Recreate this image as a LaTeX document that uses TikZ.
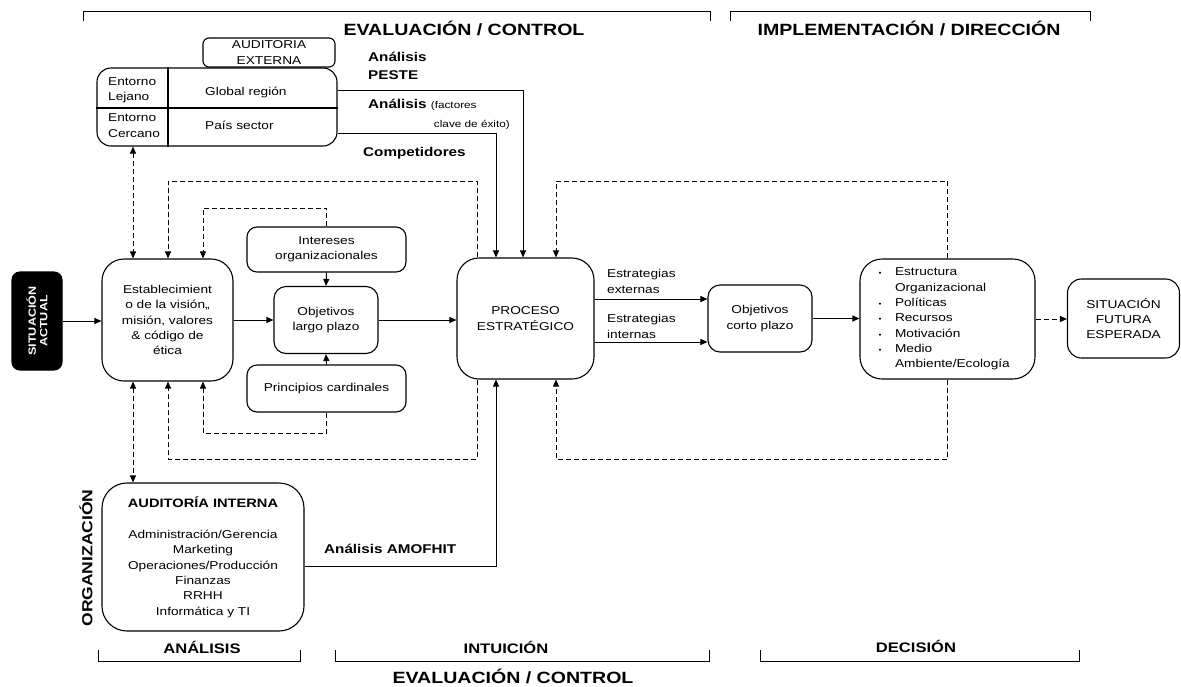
\documentclass[tikz,border=0pt]{standalone}
\usepackage{fontspec}
\setmainfont{Liberation Sans}[FakeStretch=1.2]
\usetikzlibrary{arrows.meta}

% type sizes
\newcommand\fsbody{\fontsize{11.4}{15.3}\selectfont}
\newcommand\fssmall{\fontsize{9.8}{12}\selectfont}
\newcommand\fslab{\bfseries\fontsize{12.7}{18}\selectfont}
\newcommand\fshead{\bfseries\fontsize{16.3}{20}\selectfont}
\newcommand\fsfoot{\bfseries\fontsize{13.8}{16}\selectfont}
\newcommand\fsact{\bfseries\fontsize{10.5}{11.5}\selectfont}
\newcommand\fsorg{\bfseries\fontsize{14.6}{16}\selectfont}
\newcommand\fsaud{\bfseries\fontsize{12.2}{15}\selectfont}
% bullet item helpers
\newcommand\itm{\makebox[17.5pt][l]{\hspace*{1pt}{\fontsize{7}{7}\selectfont\textbullet}}}
\newcommand\ind{\hspace*{17.5pt}}

\begin{document}
\begin{tikzpicture}[x=1pt,y=-1pt,
  >={Triangle[length=7pt,width=6pt]},
  box/.style={draw, line width=1.1pt, rounded corners=#1, inner sep=0pt,
              align=center, font=\fsbody},
  box/.default=12pt,
  txt/.style={inner sep=0pt, font=\fsbody},
  lbl/.style={inner sep=0pt, font=\fslab},
  conn/.style={line width=1pt, ->},
  dconn/.style={conn, dash pattern=on 5pt off 3pt},
  brk/.style={line width=1pt}]
\useasboundingbox (0,0) rectangle (1181,686);

% reference columns and rows for the routed connectors
\coordinate (colA) at (133,0);
\coordinate (colB) at (168,0);
\coordinate (colC) at (203,0);
\coordinate (colE) at (477,0);
\coordinate (colF) at (496,0);
\coordinate (colG) at (523,0);
\coordinate (colH) at (556,0);
\coordinate (rowT) at (0,181);
\coordinate (rowT2) at (0,208);
\coordinate (rowB2) at (0,433);
\coordinate (rowB) at (0,459);

% section brackets, top
\draw[brk] (83,21) -- (83,11) -- (710,11) -- (710,21);
\draw[brk] (730,21) -- (730,11) -- (1090,11) -- (1090,21);
\node[inner sep=0pt, font=\fshead] (hev) at (464,28) {EVALUACIÓN / CONTROL};
\node[inner sep=0pt, font=\fshead] (him) at (909,28) {IMPLEMENTACIÓN / DIRECCIÓN};

% section brackets, bottom
\draw[brk] (98,650) -- (98,661) -- (300,661) -- (300,650);
\draw[brk] (335,650) -- (335,661) -- (709,661) -- (709,650);
\draw[brk] (760,650) -- (760,661) -- (1079,661) -- (1079,650);
\node[inner sep=0pt, font=\fsfoot] (fan) at (202,647) {ANÁLISIS};
\node[inner sep=0pt, font=\fsfoot] (fin) at (506,647) {INTUICIÓN};
\node[inner sep=0pt, font=\fsfoot] (fde) at (916,646) {DECISIÓN};
\node[inner sep=0pt, font=\fshead] (fev) at (513,676) {EVALUACIÓN / CONTROL};

% external audit
\node[box=6pt, minimum width=132pt, minimum height=29pt] (ae) at (269,52.5) {AUDITORIA\\EXTERNA};
\node[box=14pt, minimum width=240pt, minimum height=78pt] (ent) at (217,107) {};
\coordinate (entdiv) at (168,108);
\draw[line width=1.1pt] (ent.north -| entdiv) -- (ent.south -| entdiv);
\draw[line width=1.1pt] (ent.west |- entdiv) -- (ent.east |- entdiv);
\node[txt, anchor=west, align=left] (lej) at (108,90.5) {Entorno\\Lejano};
\node[txt, anchor=west, align=left] (cer) at (108,125.5) {Entorno\\Cercano};
\node[txt, anchor=west] (glob) at (205,92) {Global región};
\node[txt, anchor=west] (pais) at (205,125) {País sector};

% analysis labels
\node[lbl, anchor=west, align=left] (peste) at (368,66) {Análisis\\PESTE};
\node[lbl, anchor=west] (fce1) at (368,105) {Análisis {\fssmall\mdseries (factores}};
\node[inner sep=0pt, anchor=east, font=\fssmall] (fce2) at (510,125) {clave de éxito)};
\node[lbl, anchor=west] (comp) at (363,153) {Competidores};
\node[lbl, anchor=west] (amof) at (324,549) {Análisis AMOFHIT};

% main flow
\node[box=8pt, fill=black, minimum width=50pt, minimum height=98pt] (sa) at (37,321) {};
\node[inner sep=0pt, rotate=90, text=white, align=center, font=\fsact] (sat) at (sa) {SITUACIÓN\\ACTUAL};
\node[box=22pt, minimum width=131pt, minimum height=122pt] (est) at (167.5,320)
  {Establecimient\\o de la visión,,\\misión, valores\\\& código de\\ética};
\node[box=10pt, minimum width=159pt, minimum height=45pt] (ilp) at (326.5,249.5) {Intereses\\organizacionales};
\node[box=12pt, minimum width=104pt, minimum height=67pt] (olp) at (326,320) {Objetivos\\largo plazo};
\node[box=10pt, minimum width=159pt, minimum height=47pt] (pc) at (326.5,388.5) {Principios cardinales};
\node[box=22pt, minimum width=137pt, minimum height=121pt] (pe) at (525.5,318.5) {PROCESO\\ESTRATÉGICO};
\node[box=12pt, minimum width=104pt, minimum height=67pt] (ocp) at (760,318.5) {Objetivos\\corto plazo};
\node[box=22pt, minimum width=175pt, minimum height=120pt, align=left, text width=140pt] (imp) at (947.5,319)
  {\itm Estructura\\\ind Organizacional\\\itm Políticas\\\itm Recursos\\\itm Motivación\\\itm Medio\\\ind Ambiente/Ecología};
\node[box=14pt, minimum width=112pt, minimum height=79pt] (sf) at (1123.5,318.5) {SITUACIÓN\\FUTURA\\ESPERADA};

% internal audit
\node[box=25pt, minimum width=202pt, minimum height=148pt] (ai) at (203,557)
  {{\fsaud AUDITORÍA INTERNA}\\[16pt]Administración/Gerencia\\Marketing\\Operaciones/Producción\\Finanzas\\RRHH\\Informática y TI};
\node[inner sep=0pt, rotate=90, font=\fsorg] (org) at (86,558) {ORGANIZACIÓN};

% strategy labels
\node[txt, anchor=west, align=left] (eext) at (607,281.5) {Estrategias\\externas};
\node[txt, anchor=west, align=left] (eint) at (607,326.5) {Estrategias\\internas};

% solid connectors
\draw[conn] (sa.east) -- (sa.east -| est.west);
\draw[conn] (est.east) -- (est.east -| olp.west);
\draw[conn] (ilp.south) -- (olp.north);
\draw[conn] (pc.north) -- (olp.south);
\draw[conn] (olp.east) -- (olp.east -| pe.west);
\coordinate (pe-ext) at ([yshift=19.5pt]pe.east);
\coordinate (pe-int) at ([yshift=-23.5pt]pe.east);
\draw[conn] (pe-ext) -- (pe-ext -| ocp.west);
\draw[conn] (pe-int) -- (pe-int -| ocp.west);
\draw[conn] (ocp.east) -- (ocp.east -| imp.west);
\coordinate (ent-far) at ([yshift=17pt]ent.east);
\coordinate (ent-near) at ([yshift=-26pt]ent.east);
\draw[conn] (ent-far) -| (pe.north -| colG);
\draw[conn] (ent-near) -| (pe.north -| colF);
\coordinate (ai-out) at ([yshift=-9pt]ai.east);
\draw[conn] (ai-out) -| (pe.south -| colF);

% dashed connectors
\draw[dconn] (imp.east) -- (imp.east -| sf.west);
\draw[dconn, <->] (ent.south -| colA) -- (est.north -| colA);
\draw[dconn, <->] (est.south -| colA) -- (ai.north -| colA);
\draw[dconn] (pe.north -| colE) |- (rowT -| colB) -- (est.north -| colB);
\draw[dconn] (pe.south -| colE) |- (rowB -| colB) -- (est.south -| colB);
\draw[dconn] (ilp.north) |- (rowT2 -| colC) -- (est.north -| colC);
\draw[dconn] (pc.south) |- (rowB2 -| colC) -- (est.south -| colC);
\draw[dconn] (imp.north) |- (rowT -| colH) -- (pe.north -| colH);
\draw[dconn] (imp.south) |- (rowB -| colH) -- (pe.south -| colH);
\end{tikzpicture}
\end{document}
